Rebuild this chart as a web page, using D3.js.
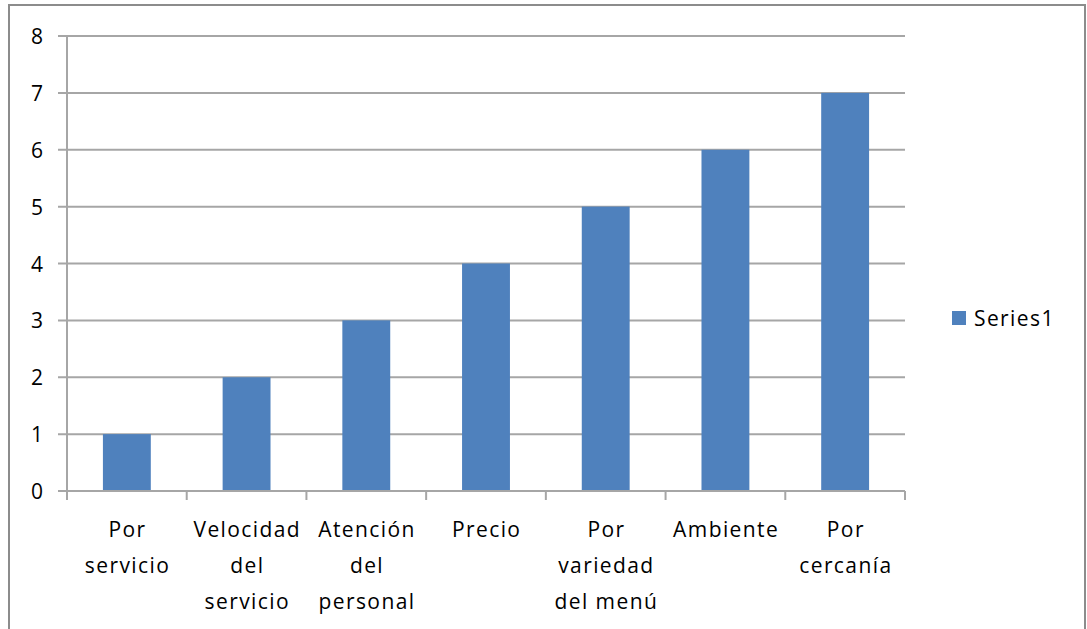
<!DOCTYPE html>
<html>
<head>
<meta charset="utf-8">
<script src="https://cdn.jsdelivr.net/npm/d3@7"></script>
<style>
  html, body { margin: 0; padding: 0; background: #fff; }
  svg { display: block; }
  text { font-family: "Open Sans", "Lato", sans-serif; fill: #000; }
</style>
</head>
<body>
<svg id="chart" width="1087" height="629"></svg>
<script>
// Category labels (each split into display lines) and their values
const categories = [
  ["Por", "servicio"],
  ["Velocidad", "del", "servicio"],
  ["Atención", "del", "personal"],
  ["Precio"],
  ["Por", "variedad", "del menú"],
  ["Ambiente"],
  ["Por", "cercanía"]
];
const values = [1, 2, 3, 4, 5, 6, 7];
const yTicks = [0, 1, 2, 3, 4, 5, 6, 7, 8];
const seriesName = "Series1";

const svg = d3.select("#chart");
const plot = { left: 67, right: 905, top: 36, bottom: 491 };
const barColor = "#4F81BD";
const gridColor = "#a6a6a6";
const fontSize = 21;
const spacing = 1.4;

// Outer chart frame
svg.append("rect")
  .attr("x", 9).attr("y", 5)
  .attr("width", 1076).attr("height", 640)
  .attr("fill", "#fff")
  .attr("stroke", "#8c8c8c").attr("stroke-width", 2);

const keys = categories.map((c, i) => i);
const x = d3.scaleBand().domain(keys).range([plot.left, plot.right]).paddingInner(0.6).paddingOuter(0.3);
const xCat = d3.scaleBand().domain(keys).range([plot.left, plot.right]);
const y = d3.scaleLinear().domain([0, 8]).range([plot.bottom, plot.top]);

// Horizontal gridlines
svg.append("g").selectAll("line").data(yTicks).join("line")
  .attr("x1", plot.left - 9).attr("x2", plot.right)
  .attr("y1", d => y(d)).attr("y2", d => y(d))
  .attr("stroke", gridColor).attr("stroke-width", 2);

// Y axis labels
svg.append("g").selectAll("text").data(yTicks).join("text")
  .attr("x", 43).attr("y", d => y(d))
  .attr("text-anchor", "end").attr("dominant-baseline", "central")
  .attr("font-size", fontSize)
  .text(d => d);

// Bars
svg.append("g").selectAll("rect").data(values).join("rect")
  .attr("x", (d, i) => x(i))
  .attr("width", x.bandwidth())
  .attr("y", d => y(d))
  .attr("height", d => y(0) - y(d))
  .attr("fill", barColor);

// Axis lines
svg.append("line")
  .attr("x1", plot.left).attr("x2", plot.left)
  .attr("y1", plot.top).attr("y2", plot.bottom + 9)
  .attr("stroke", gridColor).attr("stroke-width", 2);
svg.append("line")
  .attr("x1", plot.left - 9).attr("x2", plot.right)
  .attr("y1", plot.bottom).attr("y2", plot.bottom)
  .attr("stroke", gridColor).attr("stroke-width", 2);

// Category separator ticks
const tickPos = keys.map(i => xCat(i) + xCat.bandwidth()).concat([plot.left]);
svg.append("g").selectAll("line").data(tickPos).join("line")
  .attr("x1", d => d).attr("x2", d => d)
  .attr("y1", plot.bottom).attr("y2", plot.bottom + 9)
  .attr("stroke", gridColor).attr("stroke-width", 2);

// Category labels (shifted back by half the trailing letter-spacing so they stay centred)
const lab = svg.append("g").selectAll("text").data(categories).join("text")
  .attr("text-anchor", "middle")
  .attr("font-size", fontSize)
  .attr("letter-spacing", spacing)
  .attr("transform", (d, i) => `translate(${xCat(i) + xCat.bandwidth() / 2 + spacing / 2},0)`);
lab.selectAll("tspan").data(d => d).join("tspan")
  .attr("x", 0)
  .attr("y", (d, j) => 537 + j * 36)
  .text(d => d);

// Legend
svg.append("rect")
  .attr("x", 952).attr("y", 311).attr("width", 14).attr("height", 14)
  .attr("fill", barColor);
svg.append("text")
  .attr("x", 974).attr("y", 318)
  .attr("dominant-baseline", "central")
  .attr("font-size", fontSize)
  .attr("letter-spacing", spacing)
  .text(seriesName);
</script>
</body>
</html>
